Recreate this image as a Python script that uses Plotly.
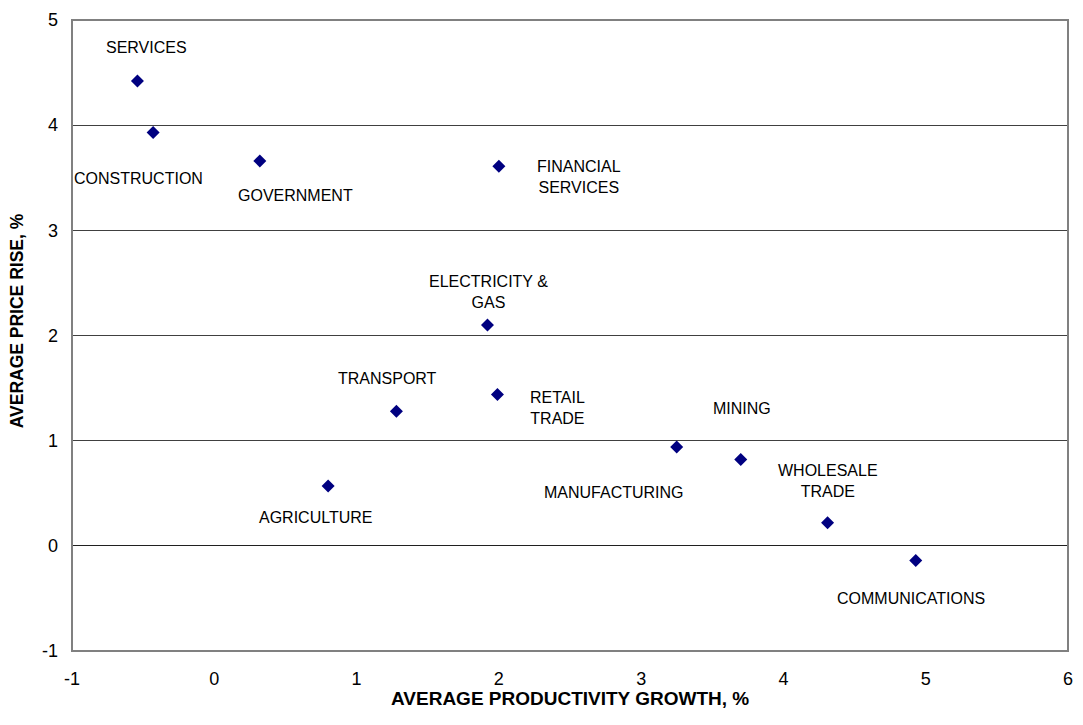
import plotly.graph_objects as go

# Data
sectors = ["SERVICES", "CONSTRUCTION", "GOVERNMENT", "FINANCIAL<br>SERVICES",
           "ELECTRICITY &<br>GAS", "TRANSPORT", "RETAIL<br>TRADE", "AGRICULTURE",
           "MANUFACTURING", "MINING", "WHOLESALE<br>TRADE", "COMMUNICATIONS"]
productivity_growth = [-0.54, -0.43, 0.32, 2.00, 1.92, 1.28, 1.99, 0.80, 3.25, 3.70, 4.31, 4.93]
price_rise = [4.42, 3.93, 3.66, 3.61, 2.10, 1.28, 1.44, 0.57, 0.94, 0.82, 0.22, -0.14]

x_ticks = [-1, 0, 1, 2, 3, 4, 5, 6]
x_tick_labels = ["-1", "0", "1", "2", "3", "4", "5", "6"]
y_ticks = [-1, 0, 1, 2, 3, 4, 5]
y_tick_labels = ["-1", "0", "1", "2", "3", "4", "5"]

# Label offsets in pixels (dx right, dy down) relative to each point
label_dx = [9, -15, 36, 80, 1, -9, 60, -12, -63, 1, 0, -5]
label_dy = [-34, 46, 35, 11, -33, -33, 14, 32, 46, -51, -42, 38]

FONT = "Liberation Sans, Arial, sans-serif"

fig = go.Figure()
fig.add_trace(go.Scatter(
    x=productivity_growth, y=price_rise, mode="markers",
    marker=dict(symbol="diamond", size=10, color="#000080"),
    hoverinfo="skip", showlegend=False,
))

annotations = []
for name, xv, yv, dx, dy in zip(sectors, productivity_growth, price_rise, label_dx, label_dy):
    annotations.append(dict(
        x=xv, y=yv, xref="x", yref="y", text=name, showarrow=False,
        xshift=dx, yshift=-dy, xanchor="center", yanchor="middle",
        font=dict(family=FONT, size=16, color="#000000"), align="center",
    ))

annotations.append(dict(
    x=-0.0549, y=0.523, xref="paper", yref="paper", text="<b>AVERAGE PRICE RISE, %</b>",
    showarrow=False, textangle=-90, xanchor="center", yanchor="middle",
    font=dict(family=FONT, size=17.5, color="#000000"),
))
annotations.append(dict(
    x=0.5, y=-0.076, xref="paper", yref="paper",
    text="<b>AVERAGE PRODUCTIVITY GROWTH, %</b>",
    showarrow=False, xanchor="center", yanchor="middle",
    font=dict(family=FONT, size=19, color="#000000"),
))

fig.update_layout(
    width=1083, height=725,
    margin=dict(l=72, r=10, t=18, b=74),
    paper_bgcolor="white", plot_bgcolor="white",
    annotations=annotations,
    xaxis=dict(
        range=[x_ticks[0], x_ticks[-1]], tickvals=x_ticks, ticktext=x_tick_labels,
        showgrid=False, zeroline=False, showline=False, ticks="",
        ticklabelstandoff=15,
        tickfont=dict(family=FONT, size=18, color="#000000"),
    ),
    yaxis=dict(
        range=[y_ticks[0], y_ticks[-1]], tickvals=y_ticks, ticktext=y_tick_labels,
        showgrid=True, gridcolor="#404040", gridwidth=1,
        zeroline=True, zerolinecolor="#202020", zerolinewidth=1,
        showline=False, ticks="", ticklabelstandoff=13,
        tickfont=dict(family=FONT, size=18, color="#000000"),
    ),
    shapes=[dict(type="rect", xref="paper", yref="paper", x0=0, y0=0, x1=1, y1=1,
                 line=dict(color="#808080", width=2), layer="above")],
)

fig.write_html("out.html")
